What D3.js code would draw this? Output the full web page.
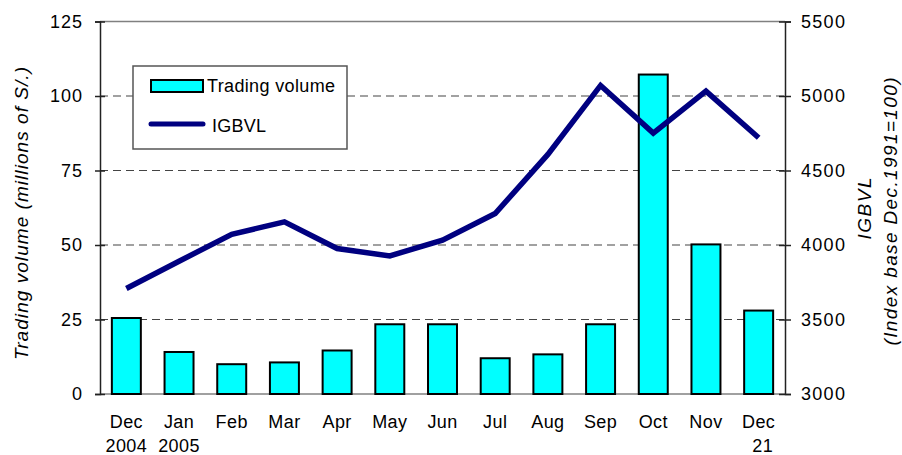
<!DOCTYPE html>
<html>
<head>
<meta charset="utf-8">
<script src="https://cdn.jsdelivr.net/npm/d3@7"></script>
<style>
  body { margin: 0; background: #fff; }
  svg text { font-family: "Liberation Sans", Arial, sans-serif; fill: #000; }
</style>
</head>
<body>
<svg width="902" height="455"></svg>
<script>
const months = ["Dec", "Jan", "Feb", "Mar", "Apr", "May", "Jun", "Jul", "Aug", "Sep", "Oct", "Nov", "Dec"]
const subLabels = ["2004", "2005", "", "", "", "", "", "", "", "", "", "", "21"]
const volume = [25.5, 14.1, 10.0, 10.6, 14.6, 23.4, 23.4, 12.0, 13.3, 23.4, 107.2, 50.2, 28.0]
const igbvl = [3708, 3891, 4072, 4155, 3976, 3927, 4032, 4211, 4608, 5071, 4751, 5033, 4720]
const volTicks = [0, 25, 50, 75, 100, 125]
const idxTicks = [3000, 3500, 4000, 4500, 5000, 5500]

const svg = d3.select("svg"),
    margin = {top: 21.5, right: 117, bottom: 61, left: 100},
    width = svg.attr("width") - margin.left - margin.right,
    height = svg.attr("height") - margin.top - margin.bottom

const data = months.map((m, i) => ({key: i, month: m, sub: subLabels[i], vol: volume[i], idx: igbvl[i]}))

const x = d3.scaleBand()
    .domain(data.map(d => d.key))
    .range([0, width])
    .paddingInner(0.45)
    .paddingOuter(0.225)
const y = d3.scaleLinear().domain([0, 125]).range([height, 0])
const y2 = d3.scaleLinear().domain([3000, 5500]).range([height, 0])

const g = svg.append("g").attr("transform", `translate(${margin.left},${margin.top})`)

// gridlines
g.append("g")
  .selectAll("line")
  .data(volTicks.filter(t => t > 0 && t < 125))
  .join("line")
    .attr("x1", 0).attr("x2", width)
    .attr("y1", d => y(d)).attr("y2", d => y(d))
    .attr("stroke", "#444")
    .attr("stroke-width", 1.2)
    .attr("stroke-dasharray", "8,5")

// top border and baseline
g.append("line").attr("x1", 0).attr("x2", width).attr("y1", 0).attr("y2", 0)
  .attr("stroke", "#808080").attr("stroke-width", 1.5)
g.append("line").attr("x1", 0).attr("x2", width).attr("y1", height).attr("y2", height)
  .attr("stroke", "#808080").attr("stroke-width", 1.5)

// bars
g.append("g")
  .selectAll("rect")
  .data(data)
  .join("rect")
    .attr("x", d => x(d.key))
    .attr("y", d => y(d.vol))
    .attr("width", x.bandwidth())
    .attr("height", d => height - y(d.vol))
    .attr("fill", "#00ffff")
    .attr("stroke", "#000")
    .attr("stroke-width", 2)

// IGBVL line
const line = d3.line()
    .x(d => x(d.key) + x.bandwidth() / 2)
    .y(d => y2(d.idx))
g.append("path")
  .datum(data)
  .attr("d", line)
  .attr("fill", "none")
  .attr("stroke", "#000080")
  .attr("stroke-width", 5.5)
  .attr("stroke-linejoin", "miter")

// axes
const left = g.append("g")
  .call(d3.axisLeft(y).tickValues(volTicks).tickSize(5).tickPadding(12))
left.select(".domain").attr("stroke", "#222").attr("stroke-width", 1.5)
left.selectAll(".tick line").attr("x2", -5).attr("x1", 5).attr("stroke", "#222").attr("stroke-width", 1.5)
left.selectAll(".tick text")
  .attr("x", -17)
  .style("font-size", "18px")
  .style("letter-spacing", "1px")

const right = g.append("g")
  .attr("transform", `translate(${width},0)`)
  .call(d3.axisRight(y2).tickValues(idxTicks).tickFormat(d3.format("d")).tickSize(6).tickPadding(10))
right.select(".domain").attr("stroke", "#222").attr("stroke-width", 1.5)
right.selectAll(".tick line").attr("x1", -6).attr("x2", 6).attr("stroke", "#222").attr("stroke-width", 1.5)
right.selectAll(".tick text")
  .attr("x", 16)
  .style("font-size", "18px")
  .style("letter-spacing", "1.3px")

// category labels
const cat = g.append("g").selectAll("text")
  .data(data)
  .join("text")
    .attr("text-anchor", "middle")
    .attr("transform", d => `translate(${x(d.key) + x.bandwidth() / 2},${height + 34})`)
    .style("font-size", "18px")
    .style("letter-spacing", "0.4px")
cat.append("tspan").attr("x", 0).attr("y", 0).text(d => d.month)
cat.append("tspan").attr("x", d => d.sub === "21" ? 4 : 0).attr("y", 24).text(d => d.sub)

// axis titles
svg.append("text")
  .attr("transform", `translate(28,${margin.top + 192}) rotate(-90)`)
  .attr("text-anchor", "middle")
  .attr("textLength", 293)
  .attr("lengthAdjust", "spacing")
  .style("font-size", "19px")
  .style("font-style", "italic")
  .text("Trading volume (millions of S/.)")

svg.append("text")
  .attr("transform", `translate(871,${margin.top + 187}) rotate(-90)`)
  .attr("text-anchor", "middle")
  .attr("textLength", 62)
  .attr("lengthAdjust", "spacing")
  .style("font-size", "19px")
  .style("font-style", "italic")
  .text("IGBVL")

svg.append("text")
  .attr("transform", `translate(897,${margin.top + 190}) rotate(-90)`)
  .attr("text-anchor", "middle")
  .attr("textLength", 268)
  .attr("lengthAdjust", "spacing")
  .style("font-size", "19px")
  .style("font-style", "italic")
  .text("(Index base Dec.1991=100)")

// legend
const lg = svg.append("g").attr("transform", "translate(133,66)")
lg.append("rect")
  .attr("width", 214).attr("height", 83)
  .attr("fill", "#fff")
  .attr("stroke", "#555").attr("stroke-width", 1.5)
lg.append("rect")
  .attr("x", 18).attr("y", 14).attr("width", 52).attr("height", 12)
  .attr("fill", "#00ffff").attr("stroke", "#000").attr("stroke-width", 2)
lg.append("text")
  .attr("x", 74).attr("y", 26)
  .attr("textLength", 128).attr("lengthAdjust", "spacing")
  .style("font-size", "18px")
  .text("Trading volume")
lg.append("line")
  .attr("x1", 18).attr("x2", 70).attr("y1", 58).attr("y2", 58)
  .attr("stroke", "#000080").attr("stroke-width", 5).attr("stroke-linecap", "round")
lg.append("text")
  .attr("x", 79).attr("y", 66)
  .attr("textLength", 54).attr("lengthAdjust", "spacing")
  .style("font-size", "18px")
  .text("IGBVL")
</script>
</body>
</html>
